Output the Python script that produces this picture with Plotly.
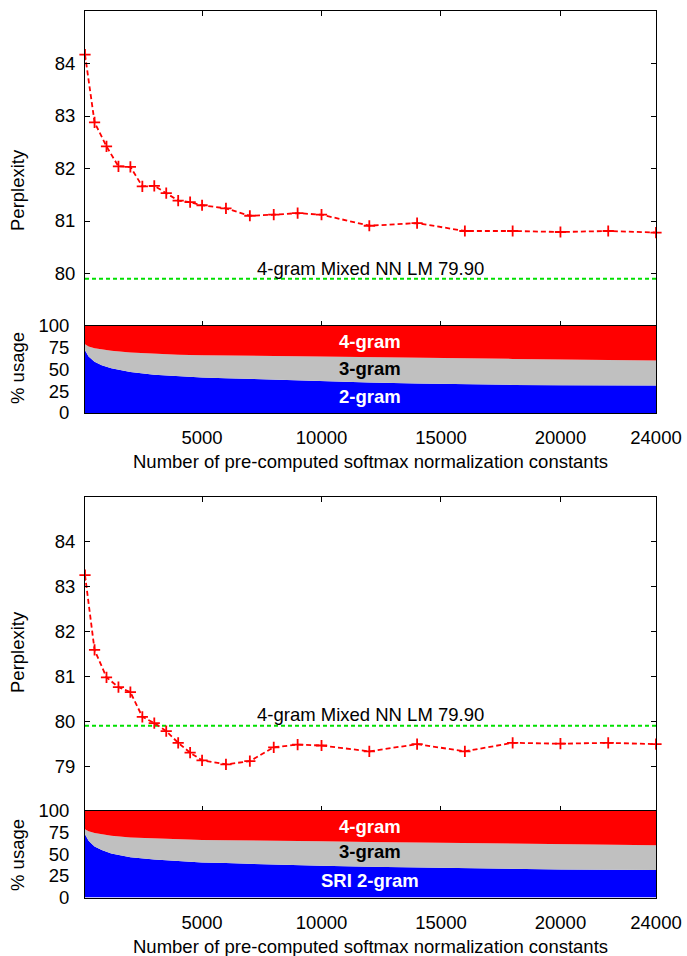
import plotly.graph_objects as go

# ---------------- data ----------------
x_pts = [100, 500, 1000, 1500, 2000, 2500, 3000, 3500, 4000, 4500, 5000,
         6000, 7000, 8000, 9000, 10000, 12000, 14000, 16000, 18000, 20000, 22000, 24000]
ppl_top = [84.17, 82.88, 82.42, 82.04, 82.03, 81.66, 81.67, 81.53, 81.39, 81.36, 81.30,
           81.24, 81.10, 81.12, 81.15, 81.12, 80.91, 80.96, 80.81, 80.81, 80.79, 80.81, 80.78]
ppl_bot = [83.26, 81.59, 80.98, 80.76, 80.65, 80.10, 79.96, 79.78, 79.52, 79.30, 79.13,
           79.04, 79.11, 79.42, 79.48, 79.46, 79.33, 79.49, 79.33, 79.52, 79.50, 79.52, 79.49]
baseline_value = 79.90
baseline_label = "4-gram Mixed NN LM 79.90"

usage_x = [100, 250, 500, 800, 1200, 2000, 3000, 4000, 5000, 6000, 8000, 10000,
           12000, 14000, 16000, 18000, 20000, 22000, 24000]
bigram_top = [72.0, 65.0, 59.0, 55.0, 51.5, 47.0, 44.0, 42.0, 40.8, 40.0, 38.2, 36.5,
              35.0, 34.0, 33.0, 32.3, 32.0, 31.8, 31.6]
trigram_top = [7.0, 11.5, 15.5, 18.0, 20.0, 22.5, 23.8, 24.9, 25.6, 26.0, 27.2, 28.3,
               29.0, 29.4, 29.8, 29.9, 29.5, 29.2, 28.7]
bigram_bot = [73.0, 65.5, 59.0, 55.0, 51.0, 46.5, 43.8, 41.8, 40.6, 39.8, 38.0, 36.6,
              35.5, 34.6, 33.6, 32.8, 32.3, 32.0, 31.8]
trigram_bot = [6.0, 11.0, 15.5, 18.0, 20.5, 23.0, 24.5, 25.5, 26.0, 26.4, 27.8, 28.3,
               28.6, 29.0, 29.4, 29.5, 29.2, 29.0, 28.6]
fourgram_top = [100 - a - b for a, b in zip(bigram_top, trigram_top)]
fourgram_bot = [100 - a - b for a, b in zip(bigram_bot, trigram_bot)]

x_ticks = [5000, 10000, 15000, 20000, 24000]
x_ticktext = ["5000", "10000", "15000", "20000", "24000"]
usage_ticks = [0, 25, 50, 75, 100]
top_ppl_ticks = [80, 81, 82, 83, 84]
bot_ppl_ticks = [79, 80, 81, 82, 83, 84]
usage_labels_top = ["4-gram", "3-gram", "2-gram"]
usage_labels_bot = ["4-gram", "3-gram", "SRI 2-gram"]
x_title = "Number of pre-computed softmax normalization constants"

# ---------------- layout helpers ----------------
W, H = 687, 956
FONT = "Liberation Sans, Arial, Helvetica, sans-serif"
FS = 18.5
def py(p):
    return (H - p) / H
def px(p):
    return p / W

xdom = [px(85), px(656)]
RED, GRAY, BLUE, GREEN = "#ff0000", "#c0c0c0", "#0000ff", "#00e000"

fig = go.Figure()

panels = [
    dict(ppl=ppl_top, big=bigram_top, tri=trigram_top, four=fourgram_top,
         xa="x", ya="y", xu="x2", yu="y2"),
    dict(ppl=ppl_bot, big=bigram_bot, tri=trigram_bot, four=fourgram_bot,
         xa="x3", ya="y3", xu="x4", yu="y4"),
]

for i, p in enumerate(panels):
    fig.add_trace(go.Scatter(x=[x_pts[0], x_pts[-1]], y=[baseline_value, baseline_value],
                             mode="lines", line=dict(color=GREEN, width=1.8, dash="4px,3px"),
                             xaxis=p["xa"], yaxis=p["ya"], showlegend=False, hoverinfo="skip"))
    fig.add_trace(go.Scatter(x=x_pts, y=p["ppl"], mode="lines+markers",
                             line=dict(color=RED, width=1.8, dash="5px,3px"),
                             marker=dict(symbol="cross-thin", size=8, line=dict(color=RED, width=1.8)),
                             xaxis=p["xa"], yaxis=p["ya"], showlegend=False, cliponaxis=False))
    sg = "u%d" % i
    for vals, col in [(p["big"], BLUE), (p["tri"], GRAY), (p["four"], RED)]:
        fig.add_trace(go.Scatter(x=usage_x, y=vals, mode="lines", stackgroup=sg,
                                 line=dict(width=0, color=col), fillcolor=col,
                                 xaxis=p["xu"], yaxis=p["yu"], showlegend=False))

xr = [x_pts[0], x_pts[-1]]
common_ax = dict(showline=True, linecolor="black", linewidth=1, mirror=True,
                 showgrid=False, zeroline=False, automargin=False,
                 tickfont=dict(family=FONT, size=FS, color="black"))

main_x = dict(common_ax, range=xr, domain=xdom, tickvals=x_ticks, ticktext=x_ticktext,
              showticklabels=False, ticks="inside", ticklen=5, tickcolor="black", mirror="ticks")
usage_x_ax = dict(common_ax, range=xr, domain=xdom, tickvals=x_ticks, ticktext=x_ticktext,
                  ticks="", ticklabelstandoff=8)

fig.update_layout(
    width=W, height=H, autosize=False,
    margin=dict(l=0, r=0, t=0, b=0, pad=0, autoexpand=False),
    paper_bgcolor="white", plot_bgcolor="white",
    font=dict(family=FONT, size=FS, color="black"),
    xaxis=dict(main_x, anchor="y"),
    yaxis=dict(common_ax, range=[79, 85], domain=[py(326), py(11)], tickvals=top_ppl_ticks,
               ticks="inside", ticklen=5, tickcolor="black", mirror="ticks", anchor="x",
               ticklabelstandoff=5),
    xaxis2=dict(usage_x_ax, anchor="y2"),
    yaxis2=dict(common_ax, range=[0, 100], domain=[py(413), py(326)], tickvals=usage_ticks,
                ticks="", anchor="x2", ticklabelstandoff=11),
    xaxis3=dict(main_x, anchor="y3"),
    yaxis3=dict(common_ax, range=[78, 85], domain=[py(811), py(497)], tickvals=bot_ppl_ticks,
                ticks="inside", ticklen=5, tickcolor="black", mirror="ticks", anchor="x3",
                ticklabelstandoff=5),
    xaxis4=dict(usage_x_ax, anchor="y4"),
    yaxis4=dict(common_ax, range=[0, 100], domain=[py(897.5), py(811)], tickvals=usage_ticks,
                ticks="", anchor="x4", ticklabelstandoff=11),
)

ann = []
def text(x, y, s, color="black", bold=False, angle=0):
    ann.append(dict(x=px(x), y=py(y), xref="paper", yref="paper", text=("<b>%s</b>" % s) if bold else s,
                    showarrow=False, textangle=angle, xanchor="center", yanchor="middle",
                    font=dict(family=FONT, size=FS, color=color)))

for off, labels, ppl_c, use_c, base_y in [(0, usage_labels_top, 190, 368, 268),
                                          (485, usage_labels_bot, 652, 855, 714)]:
    text(17, ppl_c, "Perplexity", angle=-90)
    text(17, use_c, "% usage", angle=-90)
    text(370, 461.5 + off, x_title)
    text(370, base_y, baseline_label)
    text(370, 341 + off, labels[0], color="white", bold=True)
    text(370, 368 + off - (2 if off else 0), labels[1], color="black", bold=True)
    text(370, 396 + off - (1 if off else 0), labels[2], color="white", bold=True)

fig.update_layout(annotations=ann)
fig.write_html("out.html", config={"displayModeBar": False},
               post_script="document.body.style.margin='0';document.body.style.padding='0';"
                           "document.documentElement.style.overflow='hidden';")
